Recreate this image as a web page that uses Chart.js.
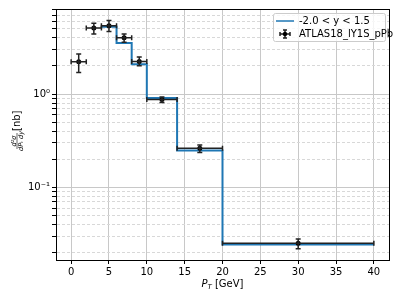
<!DOCTYPE html>
<html>
<head>
<meta charset="utf-8">
<script src="https://cdn.jsdelivr.net/npm/chart.js@4"></script>
<style>
  html, body { margin: 0; padding: 0; background: #fff; }
  canvas { display: block; }
</style>
</head>
<body>
<canvas id="grafico" width="399" height="299"></canvas>
<script>
// datos
const ptCentro = [1, 3, 5, 7, 9, 12, 17, 30];
const binBajo = [0, 2, 4, 6, 8, 10, 14, 20];
const binAlto = [2, 4, 6, 8, 10, 14, 20, 40];
const sigma = [2.22, 5.09, 5.39, 4.0, 2.23, 0.875, 0.263, 0.0252];
const sigmaMin = [1.70, 4.39, 4.68, 3.6, 2.01, 0.81, 0.237, 0.0221];
const sigmaMax = [2.68, 5.75, 6.14, 4.39, 2.49, 0.93, 0.285, 0.028];

// curva de prediccion (escalones)
const pasoX = [4, 6, 8, 10, 14, 20, 40];
const pasoY = [5.25, 3.52, 2.08, 0.91, 0.248, 0.0245, 0.0245];

const xTicks = [0, 5, 10, 15, 20, 25, 30, 35, 40];
const yMayores = [0.1, 1];
const yEtiquetas = { '1': '10\u2070', '0.1': '10\u207B\u00B9' };

const etiquetaSerie = '-2.0 < y < 1.5';
const etiquetaDatos = 'ATLAS18_lY1S_pPb';

const AZUL = '#1f77b4';
const FUENTE = '"DejaVu Sans", sans-serif';

function esMayor(v) {
  return yMayores.some(m => Math.abs(v - m) / m < 1e-6);
}

// barras de error con tapas
const barrasError = {
  id: 'barrasError',
  afterDatasetsDraw(chart) {
    const ctx = chart.ctx;
    const sx = chart.scales.x, sy = chart.scales.y;
    const cap = 2.5;
    ctx.save();
    ctx.strokeStyle = '#222';
    ctx.lineWidth = 1.5;
    for (let i = 0; i < ptCentro.length; i++) {
      const x = sx.getPixelForValue(ptCentro[i]);
      const y = sy.getPixelForValue(sigma[i]);
      const x0 = sx.getPixelForValue(binBajo[i]);
      const x1 = sx.getPixelForValue(binAlto[i]);
      const y0 = sy.getPixelForValue(sigmaMin[i]);
      const y1 = sy.getPixelForValue(sigmaMax[i]);
      ctx.beginPath();
      ctx.moveTo(x0, y); ctx.lineTo(x1, y);
      ctx.moveTo(x0, y - cap); ctx.lineTo(x0, y + cap);
      ctx.moveTo(x1, y - cap); ctx.lineTo(x1, y + cap);
      ctx.moveTo(x, y0); ctx.lineTo(x, y1);
      ctx.moveTo(x - cap, y0); ctx.lineTo(x + cap, y0);
      ctx.moveTo(x - cap, y1); ctx.lineTo(x + cap, y1);
      ctx.stroke();
    }
    ctx.restore();
  }
};

// marco, titulos de ejes y leyenda
const decoracion = {
  id: 'decoracion',
  afterDraw(chart) {
    const ctx = chart.ctx;
    const a = chart.chartArea;
    ctx.save();
    ctx.strokeStyle = '#000';
    ctx.lineWidth = 1;
    ctx.strokeRect(Math.round(a.left) + 0.5, Math.round(a.top) + 0.5,
      Math.round(a.right - a.left), Math.round(a.bottom - a.top));

    // titulo eje x: P_T [GeV]
    ctx.fillStyle = '#000';
    ctx.textBaseline = 'alphabetic';
    const cx = (a.left + a.right) / 2;
    ctx.font = 'italic 10px ' + FUENTE;
    const wP = ctx.measureText('P').width;
    ctx.font = 'italic 7px ' + FUENTE;
    const wT = ctx.measureText('T').width;
    ctx.font = '10px ' + FUENTE;
    const wG = ctx.measureText(' [GeV]').width;
    let px = cx - (wP + wT + wG) / 2;
    const by = 287;
    ctx.font = 'italic 10px ' + FUENTE;
    ctx.textAlign = 'left';
    ctx.fillText('P', px, by);
    px += wP;
    ctx.font = 'italic 7px ' + FUENTE;
    ctx.fillText('T', px, by + 2);
    px += wT;
    ctx.font = '10px ' + FUENTE;
    ctx.fillText(' [GeV]', px, by);

    // titulo eje y: fraccion d2sigma / dPT dy [nb]
    ctx.save();
    ctx.translate(17, 131);
    ctx.rotate(-Math.PI / 2);
    ctx.font = '10px ' + FUENTE;
    ctx.textAlign = 'left';
    ctx.textBaseline = 'middle';
    ctx.fillText('[nb]', 0, 0);
    const fc = -10;
    ctx.font = 'italic 6.5px ' + FUENTE;
    ctx.textAlign = 'center';
    ctx.textBaseline = 'alphabetic';
    ctx.fillText('d\u00B2\u03C3', fc, -1.5);
    ctx.textBaseline = 'top';
    ctx.fillText('dP\u209C dy', fc, 1.5);
    ctx.lineWidth = 0.6;
    ctx.beginPath();
    ctx.moveTo(fc - 8, 0); ctx.lineTo(fc + 8, 0);
    ctx.stroke();
    ctx.restore();

    // leyenda
    const lx = 273, ly = 13, lw = 112, lh = 28;
    ctx.fillStyle = 'rgba(255,255,255,0.8)';
    ctx.strokeStyle = '#cccccc';
    ctx.lineWidth = 1;
    ctx.beginPath();
    ctx.roundRect(lx + 0.5, ly + 0.5, lw, lh, 2);
    ctx.fill();
    ctx.stroke();

    ctx.strokeStyle = AZUL;
    ctx.lineWidth = 1.5;
    ctx.beginPath();
    ctx.moveTo(276, 21); ctx.lineTo(294, 21);
    ctx.stroke();

    const mx = 285, my = 34;
    ctx.strokeStyle = '#222';
    ctx.lineWidth = 1.5;
    ctx.beginPath();
    ctx.moveTo(mx - 5, my); ctx.lineTo(mx + 5, my);
    ctx.moveTo(mx - 5, my - 2); ctx.lineTo(mx - 5, my + 2);
    ctx.moveTo(mx + 5, my - 2); ctx.lineTo(mx + 5, my + 2);
    ctx.moveTo(mx, my - 4); ctx.lineTo(mx, my + 4);
    ctx.moveTo(mx - 2, my - 4); ctx.lineTo(mx + 2, my - 4);
    ctx.moveTo(mx - 2, my + 4); ctx.lineTo(mx + 2, my + 4);
    ctx.stroke();
    ctx.fillStyle = '#000';
    ctx.beginPath();
    ctx.arc(mx, my, 2.2, 0, Math.PI * 2);
    ctx.fill();

    ctx.font = '10px ' + FUENTE;
    ctx.textAlign = 'left';
    ctx.textBaseline = 'middle';
    ctx.fillText(etiquetaSerie, 299, 21);
    ctx.fillText(etiquetaDatos, 299, 34);
    ctx.restore();
  }
};

const ctx = document.getElementById('grafico').getContext('2d');
new Chart(ctx, {
  type: 'scatter',
  data: {
    datasets: [{
      type: 'line',
      label: etiquetaSerie,
      data: pasoX.map((x, i) => ({ x: x, y: pasoY[i] })),
      borderColor: AZUL,
      borderWidth: 2,
      stepped: 'before',
      pointRadius: 0,
      fill: false,
      order: 2
    }, {
      label: etiquetaDatos,
      data: ptCentro.map((x, i) => ({ x: x, y: sigma[i] })),
      backgroundColor: '#000',
      borderColor: '#000',
      pointRadius: 2.5,
      borderWidth: 0,
      order: 1
    }]
  },
  options: {
    responsive: false,
    animation: false,
    layout: { padding: { left: 0, top: 9, right: 10, bottom: 0 } },
    plugins: {
      legend: { display: false },
      tooltip: { enabled: false }
    },
    scales: {
      x: {
        type: 'linear',
        min: -2,
        max: 42,
        afterBuildTicks: (s) => { s.ticks = xTicks.map(v => ({ value: v })); },
        afterFit: (s) => { s.height = 39; },
        ticks: {
          color: '#000',
          font: { family: FUENTE, size: 10 },
          padding: 2,
          maxRotation: 0,
          callback: (v) => String(v)
        },
        grid: { color: '#c8c8c8', lineWidth: 1, tickLength: 4, tickColor: '#000' },
        border: { color: '#000', width: 1 }
      },
      y: {
        type: 'logarithmic',
        min: 0.0167,
        max: 8.15,
        afterBuildTicks: (s) => {
          const t = [];
          for (let e = -2; e <= 0; e++) {
            for (let m = 1; m <= 9; m++) {
              const v = m * Math.pow(10, e);
              if (v >= s.min && v <= s.max) t.push({ value: v, major: m === 1 });
            }
          }
          s.ticks = t;
        },
        afterFit: (s) => { s.width = 56; },
        ticks: {
          autoSkip: false,
          color: '#000',
          font: { family: FUENTE, size: 10 },
          padding: 2,
          callback: (v) => {
            const k = String(Math.round(v * 1000) / 1000);
            return yEtiquetas[k] || '';
          }
        },
        grid: {
          color: (c) => esMayor(c.tick.value) ? '#c8c8c8' : '#d8d8d8',
          lineWidth: 1,
          tickLength: 4,
          tickColor: '#000'
        },
        border: {
          color: '#000',
          width: 1,
          dash: (c) => (c.tick && !esMayor(c.tick.value)) ? [3, 2] : []
        }
      }
    }
  },
  plugins: [barrasError, decoracion]
});
</script>
</body>
</html>
